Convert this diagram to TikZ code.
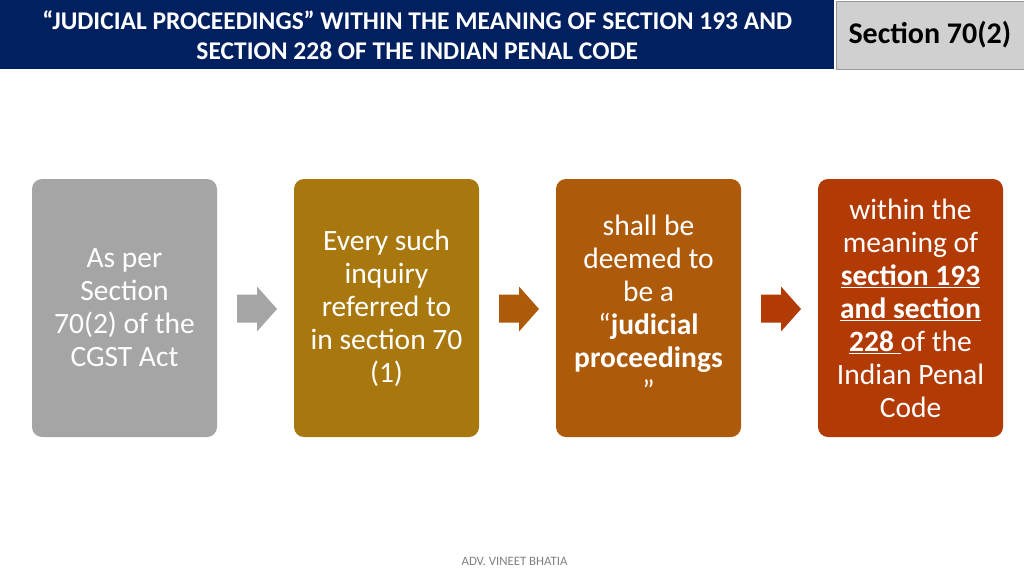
\documentclass[tikz,border=0pt]{standalone}
\usepackage{fontspec}
\setmainfont{Carlito}
\definecolor{navy}{HTML}{002060}
\definecolor{hdrgray}{HTML}{D0D0D0}
\definecolor{cgray}{HTML}{A5A5A5}
\definecolor{cgold}{HTML}{A8780F}
\definecolor{corange}{HTML}{AE5A0B}
\definecolor{cred}{HTML}{B23A05}
\tikzset{
  card/.style={rounded corners=10pt, minimum width=185pt, minimum height=258pt,
    align=center, text=white, inner sep=0pt,
    font=\fontsize{29.5}{33}\selectfont},
}
\newcommand{\flowarrow}[2]{%
  \fill[#2] (#1) ++(-20,-14) -- ++(20,0) -- ++(0,-8) -- ++(20,22.5) -- ++(-20,22.5)
    -- ++(0,-9) -- ++(-20,0) -- cycle;}
\begin{document}
\begin{tikzpicture}[x=1pt,y=-1pt]
\useasboundingbox (0,0) rectangle (1024,576);
\fill[white] (0,0) rectangle (1024,576);
% header
\node[fill=navy, minimum width=834pt, minimum height=69pt, inner sep=0pt, anchor=north west,
  text=white, align=center, font=\bfseries\fontsize{25.5}{30}\selectfont] (title) at (0,0)
  {“JUDICIAL PROCEEDINGS” WITHIN THE MEANING OF SECTION 193 AND\\SECTION 228 OF THE INDIAN PENAL CODE};
\node[fill=hdrgray, draw=gray!80, line width=0.8pt, minimum width=188pt, minimum height=68pt, inner sep=0pt,
  anchor=north west, font=\bfseries\fontsize{30}{34}\selectfont] (sec) at (835.5,0.5) {Section 70(2)};
% cards
\node[card, fill=cgray] (c1) at (124.5,308) {As per\\Section\\70(2) of the\\CGST Act};
\node[card, fill=cgold] (c2) at (386.5,308) {Every such\\inquiry\\referred to\\in section 70\\(1)};
\node[card, fill=corange] (c3) at (648.5,308) {shall be\\deemed to\\be a\\“\textbf{judicial}\\\textbf{proceedings}\\”};
\node[card, fill=cred] (c4) at (910.5,308) {within the\\meaning of\\\underline{\textbf{section 193}}\\\underline{\textbf{and section}}\\\underline{\textbf{228 }}of the\\Indian Penal\\Code};
% arrows
\coordinate (a1) at (257,308.5);
\coordinate (a2) at (519,308.5);
\coordinate (a3) at (781,308.5);
\flowarrow{a1}{cgray}
\flowarrow{a2}{corange}
\flowarrow{a3}{cred}
% footer
\node[text=gray, font=\fontsize{12.8}{15}\selectfont] (foot) at (514.5,561) {ADV. VINEET BHATIA};
\end{tikzpicture}
\end{document}
